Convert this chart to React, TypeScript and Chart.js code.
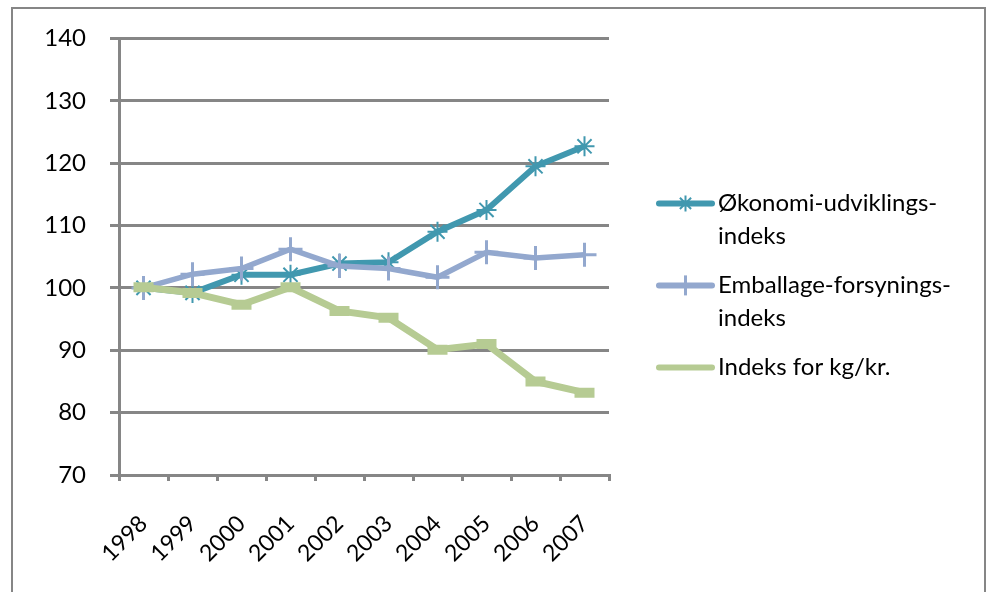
import React, { useEffect, useRef } from "react";
import { Chart, registerables } from "chart.js";

Chart.register(...registerables);

const years = ["1998", "1999", "2000", "2001", "2002", "2003", "2004", "2005", "2006", "2007"];
const okonomi = [100, 99.2, 102.1, 102.1, 103.9, 104.1, 109, 112.5, 119.5, 122.7];
const emballage = [100, 102.2, 103.1, 106.2, 103.5, 103.1, 101.7, 105.7, 104.8, 105.3];
const kgkr = [100.1, 99.2, 97.3, 100.1, 96.3, 95.2, 90.1, 91, 85, 83.2];
const yTicks = [70, 80, 90, 100, 110, 120, 130, 140];

const legendLabels = [
  ["Økonomi-udviklings-", "indeks"],
  ["Emballage-forsynings-", "indeks"],
  ["Indeks for kg/kr."],
];

const TEAL = "#4198AF";
const LAV = "#93A8CE";
const GREEN = "#B6CB93";
const GRID = "#868686";
const FONT = "Lato";

export default function App() {
  const ref = useRef<HTMLCanvasElement | null>(null);

  useEffect(() => {
    if (!ref.current) return;
    const legendPlugin = {
      id: "sideLegend",
      afterDraw(chart: any) {
        const ctx = chart.ctx;
        const area = chart.chartArea;
        const x0 = area.right + 50;
        const x1 = x0 + 53;
        const tx = x1 + 6;
        const ys = [area.top + 165, area.top + 247, area.top + 329];
        const cols = [TEAL, LAV, GREEN];
        const styles = ["star", "cross", "none"];
        ctx.save();
        ys.forEach((y, i) => {
          ctx.strokeStyle = cols[i];
          ctx.lineWidth = 6;
          ctx.lineCap = "round";
          ctx.beginPath();
          ctx.moveTo(x0, y);
          ctx.lineTo(x1, y);
          ctx.stroke();
          const cx = (x0 + x1) / 2;
          if (styles[i] === "star") {
            ctx.lineWidth = 2;
            ctx.lineCap = "butt";
            const r = 8;
            ctx.beginPath();
            ctx.moveTo(cx, y - r); ctx.lineTo(cx, y + r);
            ctx.moveTo(cx - r * 0.7, y - r * 0.7); ctx.lineTo(cx + r * 0.7, y + r * 0.7);
            ctx.moveTo(cx - r * 0.7, y + r * 0.7); ctx.lineTo(cx + r * 0.7, y - r * 0.7);
            ctx.stroke();
          } else if (styles[i] === "cross") {
            ctx.lineWidth = 3;
            ctx.lineCap = "butt";
            ctx.beginPath();
            ctx.moveTo(cx, y - 10); ctx.lineTo(cx, y + 10);
            ctx.stroke();
          }
          ctx.fillStyle = "#000";
          ctx.font = `24px ${FONT}`;
          ctx.textAlign = "left";
          ctx.textBaseline = "middle";
          legendLabels[i].forEach((t, j) => {
            ctx.fillText(t, tx, y + j * 33);
          });
        });
        ctx.restore();
      },
    };

    const chart = new Chart(ref.current, {
      type: "line",
      data: {
        labels: years,
        datasets: [
          {
            label: "Økonomi-udviklings-indeks",
            data: okonomi,
            borderColor: TEAL,
            backgroundColor: TEAL,
            borderWidth: 6,
            pointStyle: "star",
            pointRadius: 10,
            pointBorderWidth: 2,
            pointBorderColor: TEAL,
            order: 2,
          },
          {
            label: "Emballage-forsynings-indeks",
            data: emballage,
            borderColor: LAV,
            backgroundColor: LAV,
            borderWidth: 5.5,
            pointStyle: "cross",
            pointRadius: 12,
            pointBorderWidth: 3,
            pointBorderColor: LAV,
            order: 1,
          },
          {
            label: "Indeks for kg/kr.",
            data: kgkr,
            borderColor: GREEN,
            backgroundColor: GREEN,
            borderWidth: 7,
            pointStyle: "line",
            pointRadius: 10,
            pointBorderWidth: 10,
            pointBorderColor: GREEN,
            order: 0,
          },
        ],
      },
      options: {
        responsive: false,
        animation: false,
        devicePixelRatio: 1,
        layout: { padding: { left: 0, top: 38, right: 380, bottom: 0 } },
        plugins: {
          legend: { display: false },
          tooltip: { enabled: false },
        },
        scales: {
          x: {
            type: "category",
            offset: true,
            afterFit: (s: any) => {
              s.height = 117;
            },
            grid: {
              offset: true,
              drawOnChartArea: false,
              drawTicks: true,
              tickLength: 6,
              color: GRID,
              lineWidth: 3,
            },
            border: { color: GRID, width: 3 },
            ticks: {
              minRotation: 45,
              maxRotation: 45,
              autoSkip: false,
              padding: 29,
              color: "#000",
              font: { family: FONT, size: 23 },
            },
          },
          y: {
            min: 70,
            max: 140,
            afterFit: (s: any) => {
              s.width = 119;
            },
            afterBuildTicks: (s: any) => {
              s.ticks = yTicks.map((v) => ({ value: v }));
            },
            grid: {
              color: GRID,
              lineWidth: 3,
              tickLength: 9,
            },
            border: { color: GRID, width: 3 },
            ticks: {
              padding: 24,
              color: "#000",
              font: { family: FONT, size: 24 },
            },
          },
        },
      },
      plugins: [legendPlugin],
    });
    return () => chart.destroy();
  }, []);

  return (
    <div style={{ position: "fixed", left: 0, top: 0, width: 989, height: 592, overflow: "hidden", background: "#fff" }}>
      <div
        style={{
          position: "absolute",
          left: 11,
          top: 7,
          width: 975,
          height: 700,
          border: `2px solid ${GRID}`,
          boxSizing: "border-box",
        }}
      />
      <canvas
        ref={ref}
        width={989}
        height={592}
        style={{ position: "absolute", left: 0, top: 0, width: 989, height: 592 }}
      />
    </div>
  );
}
